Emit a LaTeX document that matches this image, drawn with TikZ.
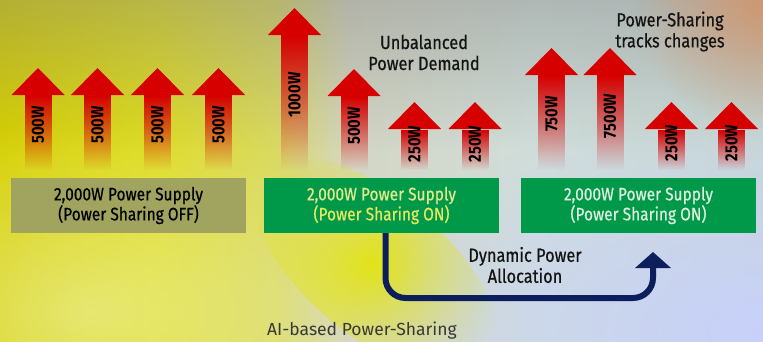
\documentclass[tikz,border=0pt]{standalone}
\usepackage{fontspec}
\setmainfont{Fira Sans}
\newfontfamily\condfont[FakeStretch=0.86, FakeBold=0.6]{Fira Sans}
\newfontfamily\labfont[FakeStretch=0.84]{Fira Sans}
\usetikzlibrary{fadings,arrows.meta}

\definecolor{arrred}{HTML}{D60000}
\definecolor{boxgreen}{HTML}{00994A}
\definecolor{boxolive}{HTML}{A0A45E}
\definecolor{navyline}{HTML}{0C1F5C}
\definecolor{txtdark}{HTML}{141414}
\definecolor{onyellowA}{HTML}{E2EA8C}
\definecolor{onyellowB}{HTML}{E6E860}
\definecolor{onwhite}{HTML}{DCEEDC}
\definecolor{bgA}{HTML}{D6D000}
\definecolor{bgB}{HTML}{DEDC20}
\definecolor{bgC}{HTML}{D4D6C4}
\definecolor{bgD}{HTML}{D0DEDA}
\definecolor{bgE}{HTML}{C8D8D4}
\definecolor{glowyellow}{HTML}{E4E600}
\definecolor{glowlav}{HTML}{C8D0FF}
\definecolor{glowtan}{HTML}{D89060}
\definecolor{glowpale}{HTML}{F0F4C0}

\pgfdeclarehorizontalshading{bgh}{100bp}{color(0bp)=(bgA); color(25bp)=(bgA); color(35bp)=(bgB); color(43bp)=(bgB!60!bgC); color(48bp)=(bgC); color(60bp)=(bgD); color(75bp)=(bgE); color(100bp)=(bgE)}

\tikzfading[name=shaftfade, top color=transparent!0, bottom color=transparent!100]
\tikzfading[name=glow, inner color=transparent!0, outer color=transparent!100]
\tikzfading[name=downfade, top color=transparent!0, bottom color=transparent!100]

\tikzset{
  psbox/.style={minimum width=235pt, minimum height=55pt, inner sep=0pt, align=center,
    font=\condfont\fontsize{18}{20}\selectfont},
  vlabel/.style={rotate=90, inner sep=0pt, text=black, font=\labfont\bfseries\fontsize{17.5}{18}\selectfont},
  caption/.style={align=center, text=txtdark, inner sep=0pt, font=\condfont\fontsize{19}{21}\selectfont},
}

\newcommand\powarrow[5]{%
  \fill[arrred] ({#2-26.5},{341-#3-27}) -- ({#2},{341-#3}) -- ({#2+26.5},{341-#3-27}) -- cycle;
  \fill[arrred, path fading=shaftfade, fit fading=true] ({#2-13.5},{341-#3-27.5}) rectangle ({#2+13.5},{341-170});
  \node[vlabel] (#1) at ({#2},{341-#5}) {#4};
}

\begin{document}
\begin{tikzpicture}[x=1pt,y=1pt]
\useasboundingbox (0,0) rectangle (763,341);
% background
\fill[shading=bgh] (0,0) rectangle (763,341);
\fill[black!50, path fading=downfade, fill opacity=0.4] (0,190) rectangle (763,341);
\fill[glowpale, path fading=glow, fill opacity=0.55] (90,30) ellipse (330 and 190);
\fill[glowyellow, path fading=glow, fill opacity=0.9, rotate around={-40:(375,75)}] (375,75) ellipse (150 and 70);
\fill[glowlav, path fading=glow, fill opacity=0.9] (763,10) ellipse (420 and 220);
\fill[glowtan, path fading=glow, fill opacity=0.8] (763,341) ellipse (130 and 130);

% group 1
\powarrow{a1}{38}{68}{500W}{125}
\powarrow{a2}{97.5}{68}{500W}{125}
\powarrow{a3}{157.5}{68}{500W}{125}
\powarrow{a4}{218.5}{68}{500W}{125}
\node[psbox, fill=boxolive, text=black] (box1) at (128.5,135.5) {2,000W Power Supply\\(Power Sharing OFF)};

% group 2
\powarrow{b1}{294.5}{8}{1000W}{95}
\powarrow{b2}{354}{69}{500W}{126}
\powarrow{b3}{414.5}{102}{250W}{144}
\powarrow{b4}{475}{102}{250W}{144}
\node[caption] (unbal) at (424,288.5) {Unbalanced\\Power Demand};
\node[psbox, fill=boxgreen] (box2) at (381.5,135.5) {{\color{onyellowA}2,000W Power Supply}\\{\color{onyellowB}(Power Sharing ON)}};

% group 3
\powarrow{c1}{551.5}{48}{750W}{114}
\powarrow{c2}{610}{48}{7500W}{116}
\powarrow{c3}{671.5}{102}{250W}{143}
\powarrow{c4}{731.5}{102}{250W}{143}
\node[caption] (tracks) at (670,309.5) {Power-Sharing\\tracks changes};
\node[psbox, fill=boxgreen, text=onwhite] (box3) at (638.5,135.5) {2,000W Power Supply\\(Power Sharing ON)};

% dynamic allocation connector
\coordinate (dtip) at (653,89);
\draw[navyline, line width=6pt, rounded corners=20pt, -{Triangle[width=35pt,length=16pt]}]
  ([xshift=4pt]box2.south) |- (653,43) -- (dtip);
\node[caption] (dyn) at (525,76) {Dynamic Power\\Allocation};

\node[anchor=base west, inner sep=0pt, text=black!78, font=\fontsize{17.5}{17.5}\selectfont] (ai) at (267,5.5) {AI-based Power-Sharing};
\end{tikzpicture}
\end{document}
